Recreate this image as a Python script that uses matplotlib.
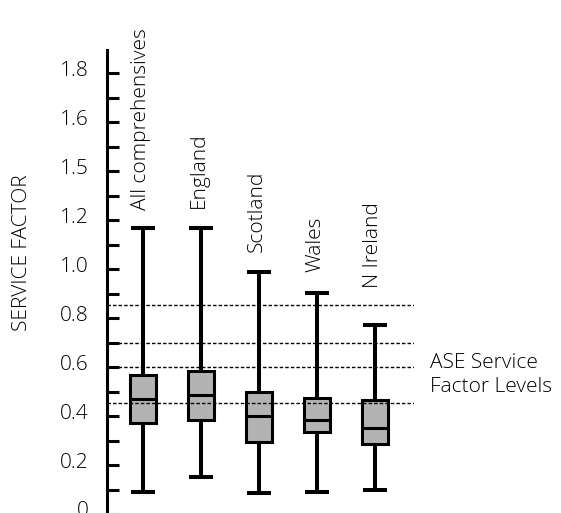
import matplotlib
matplotlib.use("Agg")
import matplotlib.pyplot as plt
from matplotlib.transforms import ScaledTranslation

plt.rcParams['font.family'] = ['Open Sans', 'DejaVu Sans']
plt.rcParams['font.weight'] = 'light'

groups = ["All comprehensives", "England", "Scotland", "Wales", "N Ireland"]
whisker_low = [0.090, 0.151, 0.086, 0.090, 0.098]
q1 = [0.371, 0.384, 0.294, 0.335, 0.286]
medians = [0.469, 0.486, 0.400, 0.384, 0.351]
q3 = [0.567, 0.584, 0.498, 0.473, 0.465]
whisker_high = [1.167, 1.167, 0.988, 0.902, 0.771]

ase_levels = [0.453, 0.600, 0.698, 0.853]

tick_values = [0.0, 0.1, 0.2, 0.3, 0.4, 0.5, 0.6, 0.7, 0.8, 0.9,
               1.0, 1.1, 1.2, 1.3, 1.4, 1.5, 1.6, 1.7, 1.8]
tick_labels = ["0", "", "0.2", "", "0.4", "", "0.6", "", "0.8", "",
               "1.0", "", "1.2", "", "1.5", "", "1.6", "", "1.8"]

# label distance above the top whisker, in pixels
label_gap = [18, 20, 20, 21, 37]

fig = plt.figure(figsize=(5.61, 5.13), dpi=100)
ax = fig.add_axes([107 / 561, -1 / 513, 307 / 561, 464 / 513])

stats = []
for i in range(len(groups)):
    stats.append(dict(whislo=whisker_low[i], q1=q1[i], med=medians[i],
                      q3=q3[i], whishi=whisker_high[i], fliers=[]))
positions = list(range(1, len(groups) + 1))

ax.bxp(stats, positions=positions, widths=0.45, patch_artist=True,
       showfliers=False, capwidths=0.43,
       boxprops=dict(facecolor='#b3b3b3', edgecolor='black', linewidth=2.2, joinstyle='miter'),
       medianprops=dict(color='black', linewidth=2.2, solid_capstyle='butt'),
       whiskerprops=dict(color='black', linewidth=2.9, solid_capstyle='butt'),
       capprops=dict(color='black', linewidth=2.9, solid_capstyle='butt'))

for lvl in ase_levels:
    ax.axhline(lvl, color='black', linewidth=1.0, linestyle=(0, (2.5, 1.5)), zorder=5)

for i, name in enumerate(groups):
    ax.annotate(name, xy=(positions[i], whisker_high[i]), xytext=(-2, label_gap[i]),
                textcoords='offset pixels', rotation=90, ha='center', va='bottom',
                fontsize=15)

ax.text(5.95, 0.567, "ASE Service\nFactor Levels", fontsize=15, ha='left',
        va='center', linespacing=1.25, clip_on=False)

ax.set_xlim(0.379, 5.672)
ax.set_ylim(0, 1.894)
ax.set_xticks([])
ax.set_yticks(tick_values)
ax.set_yticklabels(tick_labels)
ax.tick_params(axis='y', direction='in', length=8.6, width=2.2, pad=13, labelsize=15)
for lab in ax.get_yticklabels():
    lab.set_transform(lab.get_transform() + ScaledTranslation(0, 0.05, fig.dpi_scale_trans))

for side in ['top', 'right', 'bottom']:
    ax.spines[side].set_visible(False)
ax.spines['left'].set_linewidth(2.2)
ax.patch.set_alpha(0)

fig.text(22 / 561, 1 - 253 / 513, "SERVICE FACTOR", rotation=90, fontsize=15,
         ha='center', va='center')

fig.savefig("out.png", dpi=100)
